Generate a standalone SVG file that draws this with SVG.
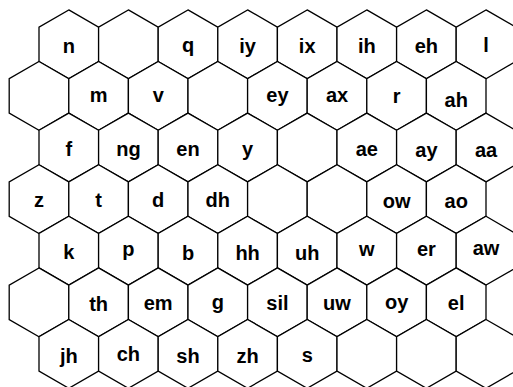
<svg xmlns="http://www.w3.org/2000/svg" xmlns:xlink="http://www.w3.org/1999/xlink" width="513" height="387" viewBox="0 0 513 387">
<style>
.hex{fill:#fff;stroke:#000;stroke-width:1.3;stroke-linejoin:miter}
text{font-family:"Liberation Sans",Arial,Helvetica,sans-serif;font-weight:bold;font-size:20px;text-anchor:middle;fill:#000}
</style>
<defs>
<polygon id="hx" class="hex" points="0,-34.4 29.8,-17.2 29.8,17.2 0,34.4 -29.8,17.2 -29.8,-17.2"/>
</defs>
<rect width="513" height="387" fill="#fff"/>
<g id="nodes">
<!-- row 0 -->
<g id="c0-0" transform="translate(68.8,44.3)"><use href="#hx"/><text y="8.5">n</text></g>
<g id="c0-1" transform="translate(128.4,44.3)"><use href="#hx"/></g>
<g id="c0-2" transform="translate(188,44.3)"><use href="#hx"/><text y="8">q</text></g>
<g id="c0-3" transform="translate(247.6,44.3)"><use href="#hx"/><text y="8.5">iy</text></g>
<g id="c0-4" transform="translate(307.2,44.3)"><use href="#hx"/><text y="8.5">ix</text></g>
<g id="c0-5" transform="translate(366.8,44.3)"><use href="#hx"/><text y="8.5">ih</text></g>
<g id="c0-6" transform="translate(426.4,44.3)"><use href="#hx"/><text y="8.5">eh</text></g>
<g id="c0-7" transform="translate(486,44.3)"><use href="#hx"/><text y="7.5">l</text></g>
<!-- row 1 -->
<g id="c1-0" transform="translate(39,95.9)"><use href="#hx"/></g>
<g id="c1-1" transform="translate(98.6,95.9)"><use href="#hx"/><text y="6.5">m</text></g>
<g id="c1-2" transform="translate(158.2,95.9)"><use href="#hx"/><text y="6.5">v</text></g>
<g id="c1-3" transform="translate(217.8,95.9)"><use href="#hx"/></g>
<g id="c1-4" transform="translate(277.4,95.9)"><use href="#hx"/><text y="6.5">ey</text></g>
<g id="c1-5" transform="translate(337,95.9)"><use href="#hx"/><text y="6.5">ax</text></g>
<g id="c1-6" transform="translate(396.6,95.9)"><use href="#hx"/><text y="7">r</text></g>
<g id="c1-7" transform="translate(456.2,95.9)"><use href="#hx"/><text y="11">ah</text></g>
<!-- row 2 -->
<g id="c2-0" transform="translate(68.8,147.5)"><use href="#hx"/><text y="8.5">f</text></g>
<g id="c2-1" transform="translate(128.4,147.5)"><use href="#hx"/><text y="8.5">ng</text></g>
<g id="c2-2" transform="translate(188,147.5)"><use href="#hx"/><text y="8.5">en</text></g>
<g id="c2-3" transform="translate(247.6,147.5)"><use href="#hx"/><text y="8">y</text></g>
<g id="c2-4" transform="translate(307.2,147.5)"><use href="#hx"/></g>
<g id="c2-5" transform="translate(366.8,147.5)"><use href="#hx"/><text y="8.5">ae</text></g>
<g id="c2-6" transform="translate(426.4,147.5)"><use href="#hx"/><text y="9">ay</text></g>
<g id="c2-7" transform="translate(486,147.5)"><use href="#hx"/><text y="9">aa</text></g>
<!-- row 3 -->
<g id="c3-0" transform="translate(39,199.1)"><use href="#hx"/><text y="8">z</text></g>
<g id="c3-1" transform="translate(98.6,199.1)"><use href="#hx"/><text y="8">t</text></g>
<g id="c3-2" transform="translate(158.2,199.1)"><use href="#hx"/><text y="8">d</text></g>
<g id="c3-3" transform="translate(217.8,199.1)"><use href="#hx"/><text y="8">dh</text></g>
<g id="c3-4" transform="translate(277.4,199.1)"><use href="#hx"/></g>
<g id="c3-5" transform="translate(337,199.1)"><use href="#hx"/></g>
<g id="c3-6" transform="translate(396.6,199.1)"><use href="#hx"/><text y="8.5">ow</text></g>
<g id="c3-7" transform="translate(456.2,199.1)"><use href="#hx"/><text y="8.5">ao</text></g>
<!-- row 4 -->
<g id="c4-0" transform="translate(68.8,250.7)"><use href="#hx"/><text y="8">k</text></g>
<g id="c4-1" transform="translate(128.4,250.7)"><use href="#hx"/><text y="5.5">p</text></g>
<g id="c4-2" transform="translate(188,250.7)"><use href="#hx"/><text y="9.5">b</text></g>
<g id="c4-3" transform="translate(247.6,250.7)"><use href="#hx"/><text y="9.5">hh</text></g>
<g id="c4-4" transform="translate(307.2,250.7)"><use href="#hx"/><text y="9.5">uh</text></g>
<g id="c4-5" transform="translate(366.8,250.7)"><use href="#hx"/><text y="5">w</text></g>
<g id="c4-6" transform="translate(426.4,250.7)"><use href="#hx"/><text y="5">er</text></g>
<g id="c4-7" transform="translate(486,250.7)"><use href="#hx"/><text y="4.5">aw</text></g>
<!-- row 5 -->
<g id="c5-0" transform="translate(39,302.3)"><use href="#hx"/></g>
<g id="c5-1" transform="translate(98.6,302.3)"><use href="#hx"/><text y="9">th</text></g>
<g id="c5-2" transform="translate(158.2,302.3)"><use href="#hx"/><text y="8">em</text></g>
<g id="c5-3" transform="translate(217.8,302.3)"><use href="#hx"/><text y="6.5">g</text></g>
<g id="c5-4" transform="translate(277.4,302.3)"><use href="#hx"/><text y="8">sil</text></g>
<g id="c5-5" transform="translate(337,302.3)"><use href="#hx"/><text y="8">uw</text></g>
<g id="c5-6" transform="translate(396.6,302.3)"><use href="#hx"/><text y="6.5">oy</text></g>
<g id="c5-7" transform="translate(456.2,302.3)"><use href="#hx"/><text y="8">el</text></g>
<!-- row 6 -->
<g id="c6-0" transform="translate(68.8,353.9)"><use href="#hx"/><text y="9">jh</text></g>
<g id="c6-1" transform="translate(128.4,353.9)"><use href="#hx"/><text y="7.5">ch</text></g>
<g id="c6-2" transform="translate(188,353.9)"><use href="#hx"/><text y="9">sh</text></g>
<g id="c6-3" transform="translate(247.6,353.9)"><use href="#hx"/><text y="9">zh</text></g>
<g id="c6-4" transform="translate(307.2,353.9)"><use href="#hx"/><text y="8">s</text></g>
<g id="c6-5" transform="translate(366.8,353.9)"><use href="#hx"/></g>
<g id="c6-6" transform="translate(426.4,353.9)"><use href="#hx"/></g>
<g id="c6-7" transform="translate(486,353.9)"><use href="#hx"/></g>
</g>
<g id="connectors"></g>
</svg>
